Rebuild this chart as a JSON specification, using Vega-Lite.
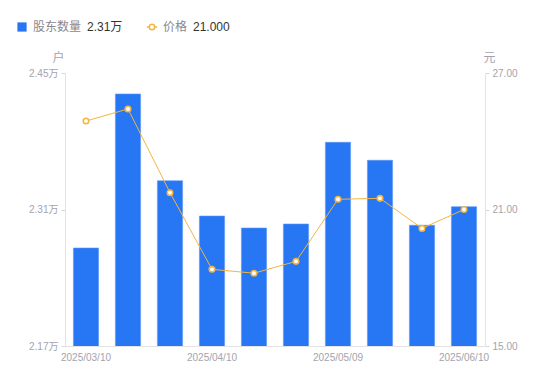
{
  "$schema": "https://vega.github.io/schema/vega-lite/v6.json",
  "width": 420,
  "height": 273,
  "autosize": {"type": "none"},
  "padding": {"left": 65, "top": 73, "right": 65, "bottom": 35},
  "background": "white",
  "data": {
    "values": [
      {"date": "2025/03/10", "holders": 22705, "price": 24.89},
      {"date": "2025/03/20", "holders": 24285, "price": 25.42},
      {"date": "2025/03/31", "holders": 23395, "price": 21.74},
      {"date": "2025/04/10", "holders": 23033, "price": 18.37},
      {"date": "2025/04/18", "holders": 22910, "price": 18.20},
      {"date": "2025/04/30", "holders": 22951, "price": 18.72},
      {"date": "2025/05/09", "holders": 23789, "price": 21.45},
      {"date": "2025/05/20", "holders": 23605, "price": 21.49},
      {"date": "2025/05/30", "holders": 22938, "price": 20.17},
      {"date": "2025/06/10", "holders": 23129, "price": 21.00}
    ]
  },
  "encoding": {
    "x": {
      "field": "date",
      "type": "ordinal",
      "sort": null,
      "scale": {"type": "band", "paddingInner": 0.4, "paddingOuter": 0.2},
      "axis": {
        "title": null,
        "values": ["2025/03/10", "2025/04/10", "2025/05/09", "2025/06/10"],
        "labelAngle": 0,
        "ticks": false,
        "domainColor": "#e3e3e6",
        "labelColor": "#a3a3ad",
        "labelFontSize": 10,
        "labelPadding": 6
      }
    }
  },
  "layer": [
    {
      "mark": {"type": "bar", "stroke": "#5d97f5", "strokeWidth": 0.6, "clip": true},
      "encoding": {
        "y": {
          "field": "holders",
          "type": "quantitative",
          "scale": {"domain": [21700, 24500], "nice": false, "zero": false},
          "axis": {
            "orient": "left",
            "values": [21700, 23100, 24500],
            "labelExpr": "format(datum.value / 10000, '.2f') + '万'",
            "grid": false,
            "domainColor": "#e3e3e6",
            "tickColor": "#d6d6dc",
            "tickSize": 4,
            "labelColor": "#a3a3ad",
            "labelFontSize": 10,
            "labelPadding": 3,
            "title": "户",
            "titleAngle": 0,
            "titleX": -7,
            "titleY": -16,
            "titleAlign": "center",
            "titleBaseline": "middle",
            "titleColor": "#a3a3ad",
            "titleFontSize": 12,
            "titleFontWeight": "normal"
          }
        },
        "fill": {
          "datum": "股东数量",
          "scale": {"range": ["#2776f3"]},
          "legend": {
            "orient": "none",
            "legendX": -49,
            "legendY": -52,
            "title": "2.31万",
            "titleOrient": "right",
            "titleColor": "#333333",
            "titleFontSize": 12,
            "titleFontWeight": "normal",
            "titlePadding": 6,
            "titleBaseline": "middle",
            "labelColor": "#888890",
            "labelFontSize": 12,
            "labelOffset": 5,
            "symbolType": "square",
            "symbolSize": 85,
            "symbolStrokeWidth": 0
          }
        }
      }
    },
    {
      "encoding": {
        "y": {
          "field": "price",
          "type": "quantitative",
          "scale": {"domain": [15, 27], "nice": false, "zero": false},
          "axis": {
            "orient": "right",
            "values": [15, 21, 27],
            "format": ".2f",
            "grid": false,
            "domainColor": "#e3e3e6",
            "tickColor": "#d6d6dc",
            "tickSize": 4,
            "labelColor": "#a3a3ad",
            "labelFontSize": 10,
            "labelPadding": 3,
            "title": "元",
            "titleAngle": 0,
            "titleX": 4,
            "titleY": -16,
            "titleAlign": "center",
            "titleBaseline": "middle",
            "titleColor": "#a3a3ad",
            "titleFontSize": 12,
            "titleFontWeight": "normal"
          }
        }
      },
      "layer": [
        {
          "mark": {"type": "line", "strokeWidth": 1},
          "encoding": {
            "stroke": {
              "datum": "价格",
              "scale": {"range": ["#f5b53f"]},
              "legend": {
                "orient": "none",
                "legendX": 81,
                "legendY": -52,
                "title": "21.000",
                "titleOrient": "right",
                "titleColor": "#333333",
                "titleFontSize": 12,
                "titleFontWeight": "normal",
                "titlePadding": 6,
                "titleBaseline": "middle",
                "labelColor": "#888890",
                "labelFontSize": 12,
                "labelOffset": 5,
                "symbolType": "M-1,0L-0.55,0M0.55,0L1,0M0.55,0A0.55,0.55,0,1,1,-0.55,0A0.55,0.55,0,1,1,0.55,0Z",
                "symbolSize": 100,
                "symbolStrokeWidth": 1.5,
                "symbolFillColor": "white"
              }
            }
          }
        },
        {
          "mark": {"type": "point", "shape": "circle", "filled": true, "fill": "white", "stroke": "#f5b53f", "strokeWidth": 1.6, "size": 30, "opacity": 1}
        }
      ]
    }
  ],
  "resolve": {"scale": {"y": "independent"}},
  "config": {
    "view": {"stroke": null},
    "font": "Liberation Sans, Noto Sans CJK SC, sans-serif"
  }
}
